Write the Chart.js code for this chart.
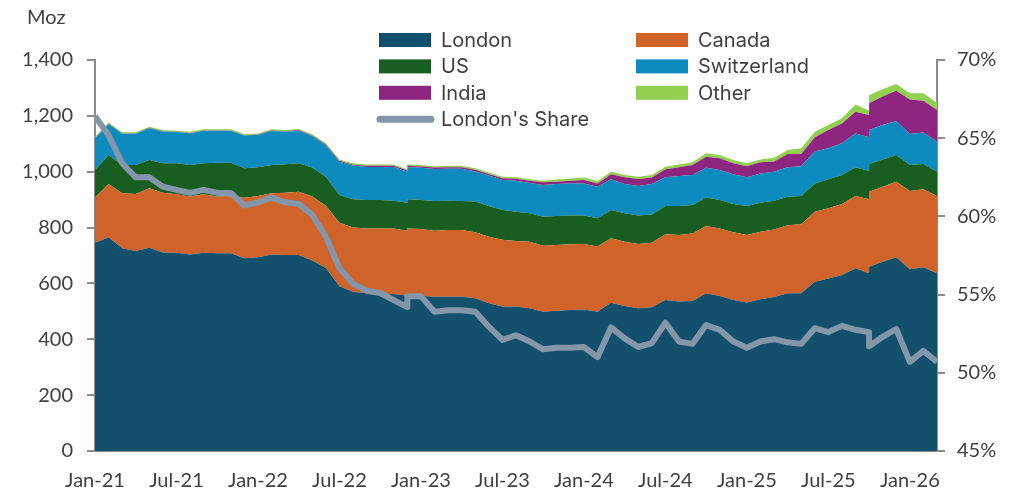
<!DOCTYPE html>
<html>
<head>
<meta charset="utf-8">
<script src="https://cdn.jsdelivr.net/npm/chart.js"></script>
<style>
  body { margin: 0; background: #fff; }
  #wrap { width: 1011px; height: 492px; position: relative; }
</style>
</head>
<body>
<div id="wrap"><canvas id="vaultChart"></canvas></div>
<script>
// month index since Jan-21 (month-end readings); Dec-22 and Oct-25 have two readings
const months = [0,1,2,3,4,5,6,7,8,9,10,11,12,13,14,15,16,17,18,19,20,21,22,23,23,
  24,25,26,27,28,29,30,31,32,33,34,35,36,37,38,39,40,41,42,43,44,45,46,47,48,49,50,
  51,52,53,54,55,56,57,57,58,59,60,61,62];
const tickLabels = ['Jan-21','Jul-21','Jan-22','Jul-22','Jan-23','Jul-23','Jan-24','Jul-24','Jan-25','Jul-25','Jan-26'];

// Moz
const london = [746,765,726,716,728,711,710,704,710,708,708,690,694,704,702,702,682,655,590,570,565,562,562,556,562,
  556,552,552,552,547,529,517,517,511,499,502,505,507,499,531,519,511,515,541,535,537,565,555,541,532,543,551,
  565,565,606,618,630,654,636,660,678,694,651,658,636];
const canada = [162,191,197,204,213,214,209,207,209,203,203,217,219,219,223,226,229,223,227,230,232,235,235,233,235,
  239,237,239,239,236,238,239,235,238,236,236,235,234,233,231,230,230,231,235,238,242,241,242,242,241,242,242,
  243,247,251,251,254,259,265,268,268,270,280,279,277];
const us = [98,104,101,104,101,105,111,113,111,121,121,105,103,101,102,102,104,104,100,101,102,102,99,100,104,
  104,106,105,104,110,110,107,105,102,104,103,103,102,101,101,102,102,101,101,104,102,102,102,101,104,104,103,
  102,101,101,104,104,103,102,100,98,96,93,91,87];
const switzerland = [114,111,112,112,114,114,112,114,117,115,115,118,116,122,116,117,113,112,119,121,118,118,121,111,115,
  115,115,115,116,108,109,107,111,109,113,115,115,115,113,110,105,106,109,103,108,107,106,107,107,103,105,104,
  106,107,114,111,114,121,120,121,123,122,111,112,107];
const india = [1,1,1,1,1,1,1,1,1,1,1,1,1,2,2,2,2,3,3,3,4,4,4,4,5,
  5,5,5,5,6,6,7,7,8,10,8,10,12,12,18,24,25,23,29,31,36,40,42,39,40,40,37,
  47,43,51,65,71,78,80,96,102,108,124,114,114];
const other = [4,4,4,4,4,4,4,4,4,4,4,4,4,4,4,4,4,5,5,5,5,5,5,5,5,
  5,5,5,5,5,5,5,5,5,6,8,8,9,9,9,8,8,9,9,10,10,12,12,12,10,10,13,
  15,21,20,18,18,26,15,30,26,24,22,27,26];
// %
const londonShare = [66.4,65.2,63.4,62.5,62.5,61.9,61.7,61.5,61.7,61.5,61.5,60.7,60.9,61.2,60.9,60.8,60.1,58.7,56.7,55.7,55.25,55.1,54.65,54.2,54.9,
  54.9,53.9,54.0,54.0,53.9,52.95,52.1,52.4,52.0,51.5,51.6,51.6,51.65,51.0,52.9,52.2,51.65,51.9,53.2,52.0,51.85,53.05,52.75,52.0,51.6,52.0,52.15,
  51.95,51.85,52.85,52.6,53.0,52.75,52.6,51.7,52.3,52.8,50.7,51.4,50.7];

const seriesNames = ['London', 'Canada', 'US', 'Switzerland', 'India', 'Other'];
const seriesColors = ['#12506B', '#D0632A', '#175E20', '#0E8BBE', '#8E2581', '#92D050'];
const seriesValues = [london, canada, us, switzerland, india, other];

const textColor = '#404040';
const axisColor = '#8c8c8c';

// stack the areas ourselves (duplicate x values break Chart.js stacking)
let running = months.map(() => 0);
const areaSets = seriesValues.map((vals, k) => {
    running = running.map((r, i) => r + vals[i]);
    return {
        label: seriesNames[k],
        data: months.map((m, i) => ({ x: m, y: running[i] })),
        backgroundColor: seriesColors[k],
        borderWidth: 0,
        pointRadius: 0,
        fill: k === 0 ? 'origin' : '-1',
        yAxisID: 'y',
        order: 1
    };
});

const shareSet = {
    label: "London's Share",
    data: months.map((m, i) => ({ x: m, y: londonShare[i] })),
    borderColor: '#8497AA',
    backgroundColor: '#8497AA',
    borderWidth: 6,
    borderJoinStyle: 'round',
    pointRadius: 0,
    fill: false,
    yAxisID: 'y2',
    order: 0
};

// two-column legend drawn over the plot, plus the unit label
const gridLegend = {
    id: 'gridLegend',
    afterDraw(chart) {
        const ctx = chart.ctx;
        ctx.save();
        ctx.font = '20px Inter';
        ctx.fillStyle = textColor;
        ctx.textBaseline = 'middle';
        chart.data.datasets.forEach((ds, i) => {
            const x = 379 + (i % 2) * 257;
            const y = 40 + Math.floor(i / 2) * 26.4;
            if (ds.yAxisID === 'y2') {
                ctx.strokeStyle = ds.borderColor;
                ctx.lineWidth = 7;
                ctx.lineCap = 'round';
                ctx.beginPath();
                ctx.moveTo(x + 1, y);
                ctx.lineTo(x + 52, y);
                ctx.stroke();
            } else {
                ctx.fillStyle = ds.backgroundColor;
                ctx.fillRect(x, y - 7, 52, 14);
            }
            ctx.fillStyle = textColor;
            ctx.fillText(ds.label, x + 62, y + 1);
        });
        ctx.font = '20px Lato';
        ctx.fillText('Moz', 27, 18);
        ctx.restore();
    }
};

const tickFont = { family: 'Lato', size: 20 };

new Chart(document.getElementById('vaultChart'), {
    type: 'line',
    data: { datasets: [...areaSets, shareSet] },
    options: {
        responsive: true,
        maintainAspectRatio: false,
        animation: false,
        layout: { padding: { top: 60, right: 0, left: 0, bottom: 0 } },
        plugins: { legend: { display: false }, tooltip: { enabled: false } },
        scales: {
            x: {
                type: 'linear',
                min: 0,
                max: 62,
                grid: { display: false },
                border: { display: true, color: axisColor, width: 2 },
                ticks: {
                    stepSize: 6,
                    includeBounds: false,
                    autoSkip: false,
                    maxRotation: 0,
                    padding: 10,
                    font: tickFont,
                    color: textColor,
                    callback: v => tickLabels[Math.round(v / 6)] || ''
                },
                afterFit: s => { s.height = 41; }
            },
            y: {
                position: 'left',
                min: 0,
                max: 1400,
                grid: { drawOnChartArea: false, drawTicks: true, tickLength: 8, color: axisColor, lineWidth: 2 },
                border: { display: true, color: axisColor, width: 2 },
                ticks: {
                    stepSize: 200,
                    padding: 14,
                    font: tickFont,
                    color: textColor,
                    callback: v => v.toLocaleString('en-US')
                },
                afterFit: s => { s.width = 95; }
            },
            y2: {
                position: 'right',
                min: 45,
                max: 70,
                grid: { drawOnChartArea: false, drawTicks: true, tickLength: 8, color: axisColor, lineWidth: 2 },
                border: { display: true, color: axisColor, width: 2 },
                ticks: {
                    stepSize: 5,
                    padding: 12,
                    font: tickFont,
                    color: textColor,
                    callback: v => v + '%'
                },
                afterFit: s => { s.width = 74; }
            }
        }
    },
    plugins: [gridLegend]
});
</script>
</body>
</html>
